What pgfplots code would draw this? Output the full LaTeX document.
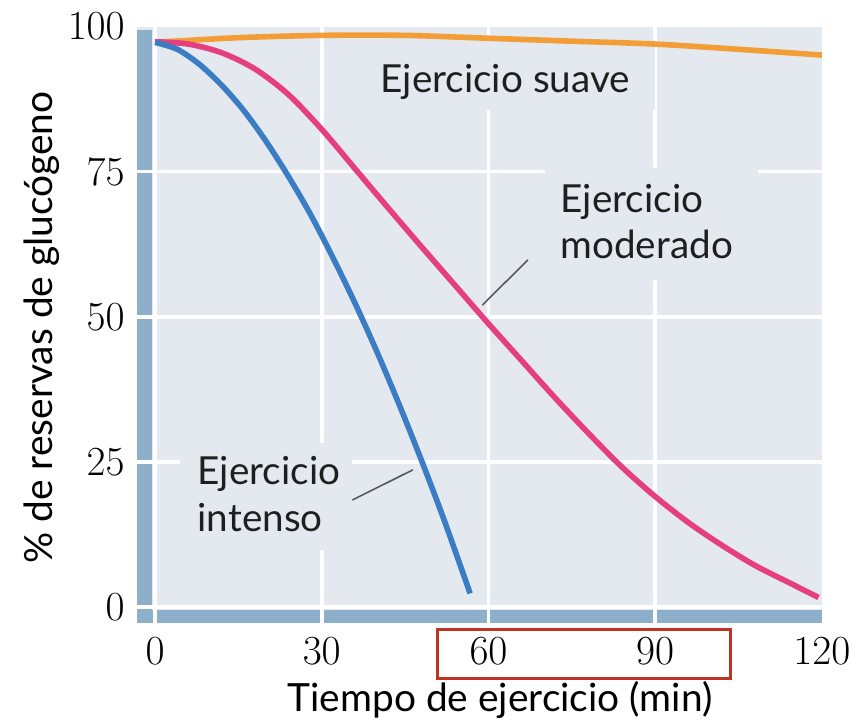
\documentclass[border=0pt]{standalone}
\usepackage{fontspec}
\setmainfont{Lato}
\usepackage{pgfplots}
\pgfplotsset{compat=1.18}

\definecolor{bgcol}{RGB}{228,233,240}
\definecolor{bandcol}{RGB}{141,175,201}
\definecolor{bluecol}{RGB}{58,125,196}
\definecolor{pinkcol}{RGB}{229,63,128}
\definecolor{orangecol}{RGB}{243,157,55}
\definecolor{redbox}{RGB}{190,52,35}

\begin{document}
\begin{tikzpicture}[
    lbl/.style={anchor=base west, inner sep=0pt, font=\fontsize{19.4}{23}\selectfont, text=black!88},
    pointer/.style={draw=black!65, line width=0.8bp},
]
\begin{axis}[
    set layers,
    scale only axis,
    width=342.4bp, height=298.3bp,
    xmin=-3.24, xmax=120, ymin=-2.86, ymax=100,
    xtick={0,30,60,90}, extra x ticks={120},
    ytick={0,25,50,75}, extra y ticks={100},
    extra x tick style={grid=none},
    extra y tick style={grid=none},
    grid=major,
    major grid style={white, line width=1.8bp},
    major tick length=0pt,
    axis line style={draw=none},
    tick label style={font=\fontsize{22.5}{27}\selectfont},
    xticklabel style={anchor=north, inner sep=0pt, yshift=-7bp},
    yticklabel style={anchor=east, inner sep=0pt, xshift=-6bp},
    xlabel={Tiempo de ejercicio (min)},
    ylabel={\% de reservas de glucógeno},
    label style={font=\fontsize{19.5}{23}\selectfont},
    xlabel style={at={(axis description cs:0.530,-0.147)}, anchor=base},
    ylabel style={at={(axis description cs:-0.124,0.496)}, anchor=base},
    clip=false,
]

% fondo y barras de los ejes
\begin{pgfonlayer}{axis background}
\fill[bgcol] (rel axis cs:0,0) rectangle (rel axis cs:1,1);
\fill[bandcol] (axis cs:-3.24,-2.86) rectangle (axis cs:-0.54,99.4);
\fill[bandcol] (axis cs:-3.24,-2.86) rectangle (axis cs:120,-0.57);
\end{pgfonlayer}

% huecos de la rejilla detras de los rotulos
\begin{pgfonlayer}{axis ticks}
\fill[bgcol] (axis cs:38.7,85.6) rectangle (axis cs:90,97.6);
\fill[bgcol] (axis cs:70.2,56.3) rectangle (axis cs:108.5,75.6);
\fill[bgcol] (axis cs:4.5,9.8) rectangle (axis cs:35.5,28.2);
\end{pgfonlayer}

\draw[pointer] (axis cs:58.9,52.0) -- (axis cs:67.1,59.8);
\draw[pointer] (axis cs:35.5,18.4) -- (axis cs:46.4,23.6);

\node[lbl] at (axis cs:40.5,88.6) {Ejercicio suave};
\node[lbl] at (axis cs:72.9,67.9) {Ejercicio};
\node[lbl] at (axis cs:72.9,60.1) {moderado};
\node[lbl] at (axis cs:7.6,21.0) {Ejercicio};
\node[lbl] at (axis cs:7.6,12.9) {intenso};

% ejercicio suave
\addplot[orangecol, line width=2.8bp, smooth, no marks] coordinates {
(0,97.3) (15,98.1) (30,98.5) (45,98.5) (60,98.0) (75,97.5) (90,97.0) (105,96.1) (120,95.1)
};
% ejercicio moderado
\addplot[pinkcol, line width=2.8bp, smooth, no marks] coordinates {
(0,97.4) (6,97.0) (12,95.5) (18,92.7) (24,88.3) (30,82.3) (36,75.5) (42,68.7) (48,62.0)
(54,55.4) (60,48.8) (66,42.4) (72,36.0) (78,29.9) (84,24.1) (90,19.0) (96,14.5)
(102,10.6) (108,7.1) (114,4.2) (119.4,1.6)
};
% ejercicio intenso
\addplot[bluecol, line width=2.8bp, smooth, no marks] coordinates {
(0,97.3) (4,96.1) (8,93.5) (12,89.9) (16,85.5) (20,80.2) (24,74.2) (28,67.6) (32,60.2)
(36,52.3) (40,43.8) (44,34.7) (48,25.1) (52,15.0) (56.7,2.3)
};

\draw[redbox, line width=1.5bp] (axis cs:50.8,-4.0) rectangle (axis cs:103.5,-12.3);

\path (axis cs:-27.9,104.6) rectangle (axis cs:126.5,-19.9);
\end{axis}
\end{tikzpicture}
\end{document}
